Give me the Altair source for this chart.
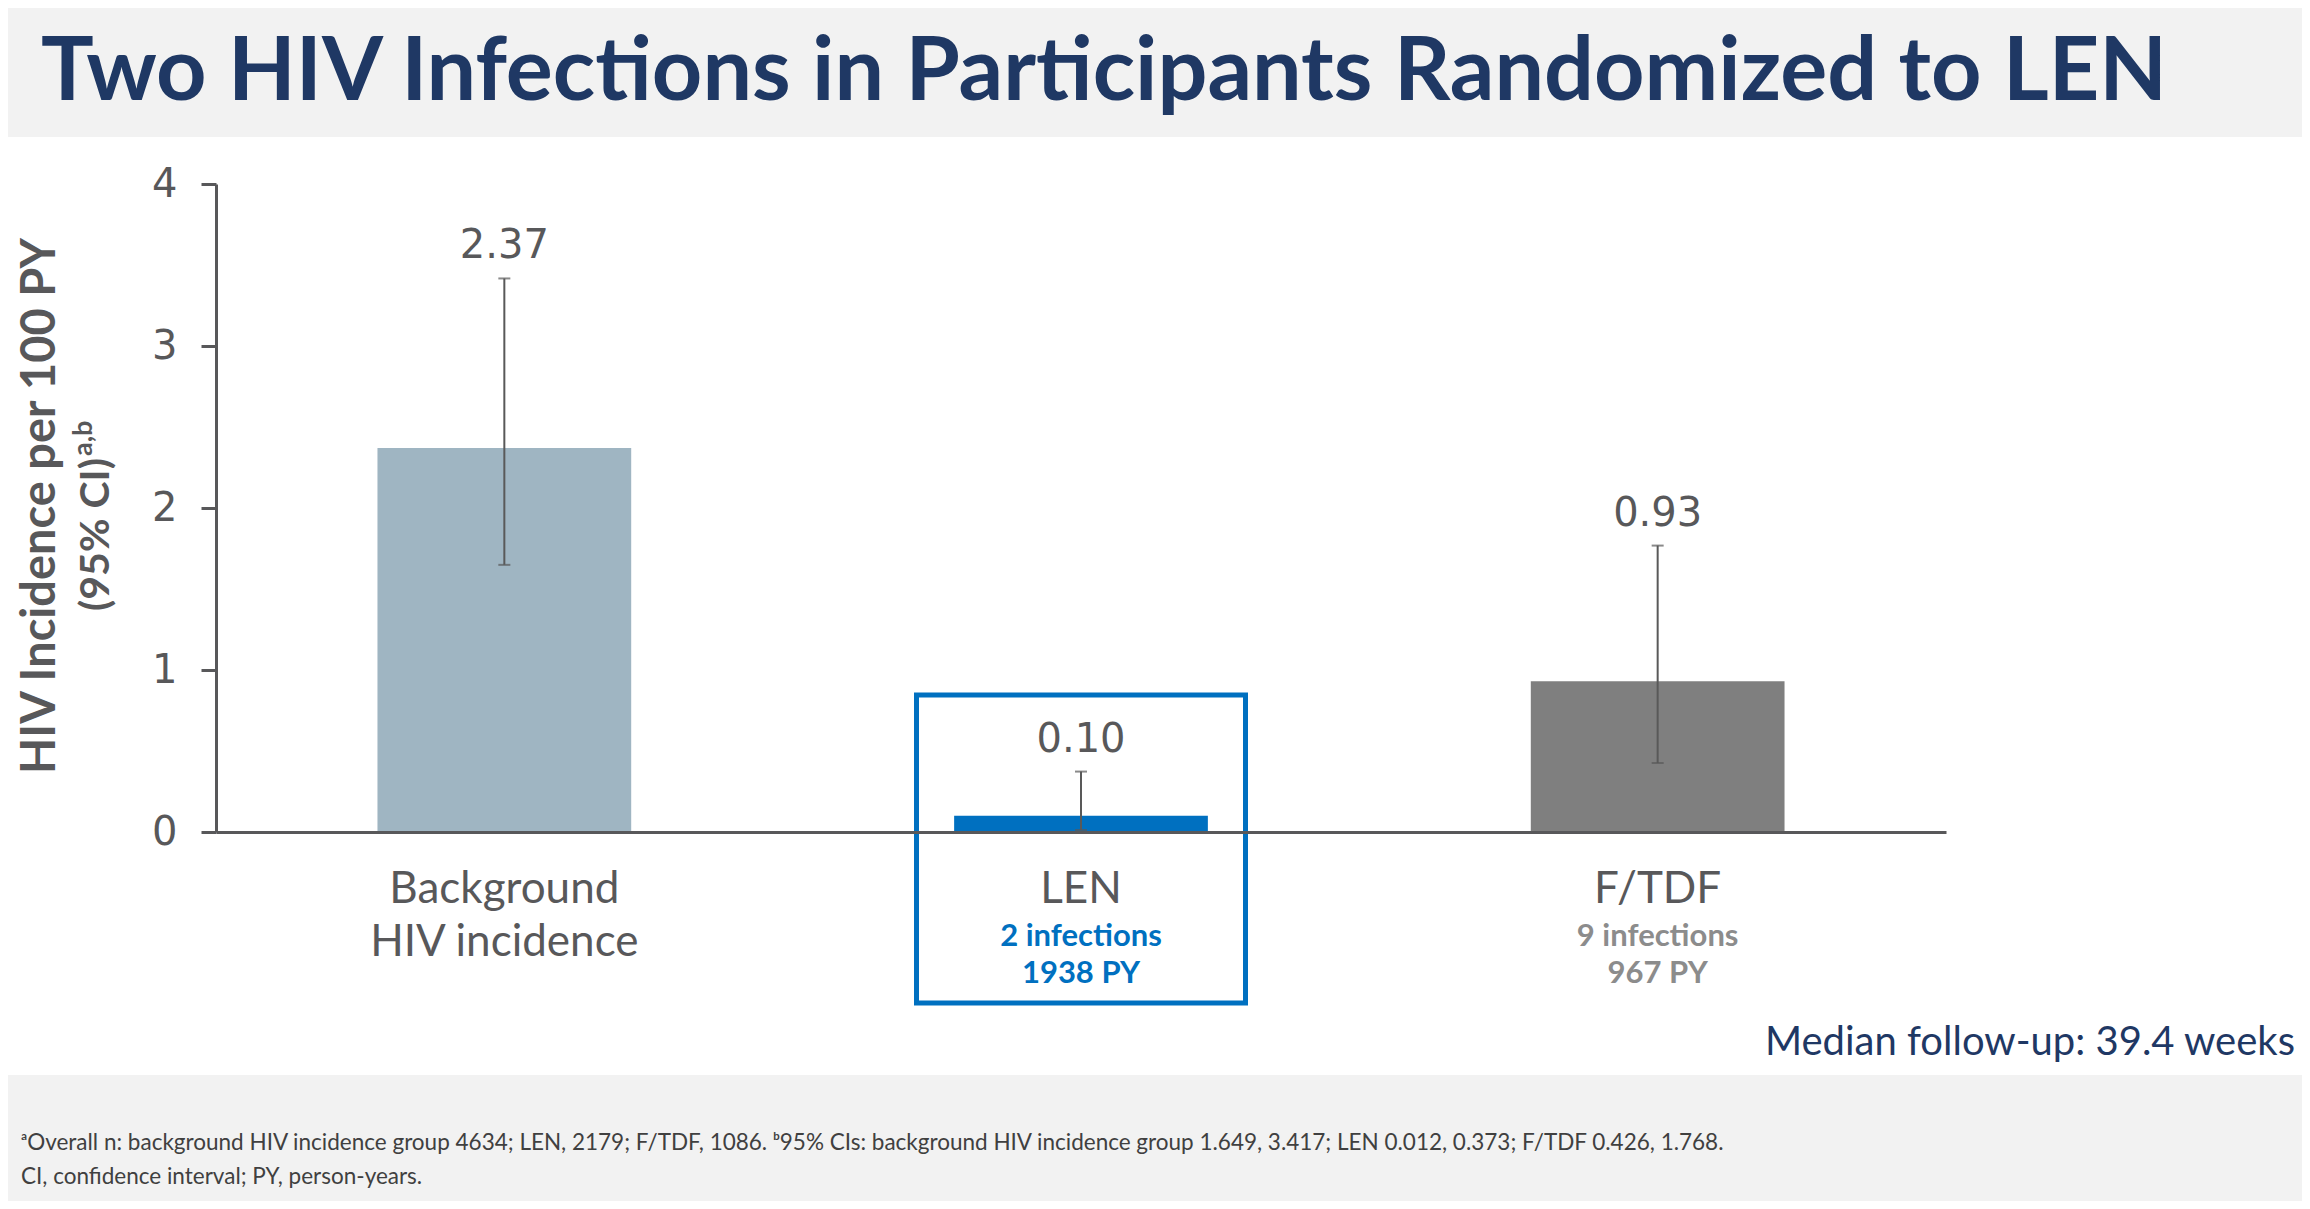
import altair as alt
import pandas as pd

# ---- data ----
categories = ["Background", "LEN", "F/TDF"]
label_line1 = ["Background", "LEN", "F/TDF"]
label_line2 = ["HIV incidence", "", ""]
sub_line1 = ["", "2 infections", "9 infections"]
sub_line2 = ["", "1938 PY", "967 PY"]
incidence = [2.37, 0.10, 0.93]
ci_low = [1.649, 0.012, 0.426]
ci_high = [3.417, 0.373, 1.768]
value_labels = ["2.37", "0.10", "0.93"]
y_ticks = [0, 1, 2, 3, 4]

title_text = "Two HIV Infections in Participants Randomized to LEN"
y_title_1 = "HIV Incidence per 100 PY"
y_title_2 = "(95% CI)"
y_title_sup = "a,b"
median_text = "Median follow-up: 39.4 weeks"
footnote_1 = ("ᵃOverall n: background HIV incidence group 4634; LEN, 2179; F/TDF, 1086. "
              "ᵇ95% CIs: background HIV incidence group 1.649, 3.417; LEN 0.012, 0.373; F/TDF 0.426, 1.768.")
footnote_2 = "CI, confidence interval; PY, person-years."

# ---- styles ----
bar_colors = ["#9FB5C2", "#0070C0", "#7F7F7F"]
sub_colors = ["#58585A", "#0070C0", "#8C8C8C"]
AXIS_GRAY = "#58585A"
NAVY = "#1F3864"
BAND_GRAY = "#F2F2F2"

W, H = 1730, 648
PAD_L, PAD_T, PAD_R, PAD_B = 208, 176, 356, 369

df = pd.DataFrame({
    "category": categories,
    "line1": label_line1,
    "line2": label_line2,
    "sub1": sub_line1,
    "sub2": sub_line2,
    "incidence": incidence,
    "ci_low": ci_low,
    "ci_high": ci_high,
    "vlabel": value_labels,
})

base = alt.Chart(df)

x_enc = alt.X(
    "category:N",
    sort=categories,
    scale=alt.Scale(paddingInner=0.56, paddingOuter=0.28),
    axis=alt.Axis(labels=False, ticks=False, title=None, domainColor=AXIS_GRAY,
                  domainWidth=3, zindex=1),
)
y_scale = alt.Scale(domain=[0, 4], nice=False)

bars = base.mark_bar().encode(
    x=x_enc,
    y=alt.Y("incidence:Q", scale=y_scale,
            axis=alt.Axis(values=y_ticks, format="d", title=None, grid=False,
                          domainColor=AXIS_GRAY, domainWidth=3, tickColor=AXIS_GRAY,
                          tickWidth=3, tickSize=15, labelFontSize=40,
                          labelFont="DejaVu Sans", labelColor=AXIS_GRAY,
                          labelPadding=24, zindex=1)),
    color=alt.Color("category:N", scale=alt.Scale(domain=categories, range=bar_colors),
                    legend=None),
)

err = base.mark_rule(stroke="#595959", strokeWidth=2).encode(
    x=alt.X("category:N", sort=categories),
    y=alt.Y("ci_low:Q", scale=y_scale),
    y2="ci_high:Q",
)
cap_hi = base.mark_tick(color="#595959", thickness=2, size=12).encode(
    x=alt.X("category:N", sort=categories),
    y=alt.Y("ci_high:Q", scale=y_scale),
)
cap_lo = base.mark_tick(color="#595959", thickness=2, size=12).encode(
    x=alt.X("category:N", sort=categories),
    y=alt.Y("ci_low:Q", scale=y_scale),
)

vals = base.mark_text(font="DejaVu Sans", fontSize=40, color=AXIS_GRAY,
                      baseline="middle", dy=-32).encode(
    x=alt.X("category:N", sort=categories),
    y=alt.Y("ci_high:Q", scale=y_scale),
    text="vlabel:N",
)

lab1 = base.mark_text(font="Lato", fontSize=44, color=AXIS_GRAY, baseline="middle").encode(
    x=alt.X("category:N", sort=categories), y=alt.value(706), text="line1:N")
lab2 = base.mark_text(font="Lato", fontSize=44, color=AXIS_GRAY, baseline="middle").encode(
    x=alt.X("category:N", sort=categories), y=alt.value(759), text="line2:N")
sub1 = base.mark_text(font="Lato", fontSize=31, fontWeight="bold", baseline="middle").encode(
    x=alt.X("category:N", sort=categories), y=alt.value(753), text="sub1:N",
    color=alt.Color("category:N", scale=alt.Scale(domain=categories, range=sub_colors),
                    legend=None))
sub2 = base.mark_text(font="Lato", fontSize=31, fontWeight="bold", baseline="middle").encode(
    x=alt.X("category:N", sort=categories), y=alt.value(790), text="sub2:N",
    color=alt.Color("category:N", scale=alt.Scale(domain=categories, range=sub_colors),
                    legend=None))

box = base.transform_filter(alt.datum.category == "LEN").mark_bar(
    width=329, fillOpacity=0, stroke="#0070C0", strokeWidth=5).encode(
    x=alt.X("category:N", sort=categories), y=alt.value(511), y2=alt.value(819))

one = pd.DataFrame({"t": [title_text]})
deco = alt.Chart(one)

title_band = deco.mark_rect(color=BAND_GRAY).encode(
    x=alt.value(-PAD_L), x2=alt.value(W + PAD_R), y=alt.value(-PAD_T), y2=alt.value(-47))
foot_band = deco.mark_rect(color=BAND_GRAY).encode(
    x=alt.value(-PAD_L), x2=alt.value(W + PAD_R), y=alt.value(891), y2=alt.value(H + PAD_B))

title = deco.mark_text(font="Lato", fontSize=88, fontWeight="bold", color=NAVY,
                       align="left", baseline="alphabetic").encode(
    x=alt.value(-175), y=alt.value(-84), text=alt.value(title_text))

yt1 = deco.mark_text(font="Lato", fontSize=47, fontWeight="bold", color=AXIS_GRAY,
                     angle=270, align="center", baseline="middle").encode(
    x=alt.value(-175), y=alt.value(322), text=alt.value(y_title_1))
yt2 = deco.mark_text(font="Lato", fontSize=41, fontWeight="bold", color=AXIS_GRAY,
                     angle=270, align="right", baseline="middle").encode(
    x=alt.value(-119), y=alt.value(274), text=alt.value(y_title_2))
yt3 = deco.mark_text(font="Lato", fontSize=27, fontWeight="bold", color=AXIS_GRAY,
                     angle=270, align="left", baseline="middle").encode(
    x=alt.value(-132), y=alt.value(272), text=alt.value(y_title_sup))

median = deco.mark_text(font="Lato", fontSize=40, color=NAVY, align="right",
                        baseline="middle").encode(
    x=alt.value(2079), y=alt.value(859), text=alt.value(median_text))

fn1 = deco.mark_text(font="Lato", fontSize=22.5, color="#404040", align="left",
                     baseline="middle").encode(
    x=alt.value(-195), y=alt.value(959), text=alt.value(footnote_1))
fn2 = deco.mark_text(font="Lato", fontSize=22.5, color="#404040", align="left",
                     baseline="middle").encode(
    x=alt.value(-195), y=alt.value(993), text=alt.value(footnote_2))

chart = alt.layer(
    title_band, foot_band, bars, err, cap_hi, cap_lo, vals, box,
    lab1, lab2, sub1, sub2, title, yt1, yt2, yt3, median, fn1, fn2,
).resolve_scale(color="independent").properties(
    width=W, height=H,
    autosize=alt.AutoSizeParams(type="none"),
    padding={"left": PAD_L, "top": PAD_T, "right": PAD_R, "bottom": PAD_B},
).configure(background="white").configure_view(strokeWidth=0, stroke="transparent")

chart.save("out.html", embed_options={"renderer": "svg", "actions": False})
